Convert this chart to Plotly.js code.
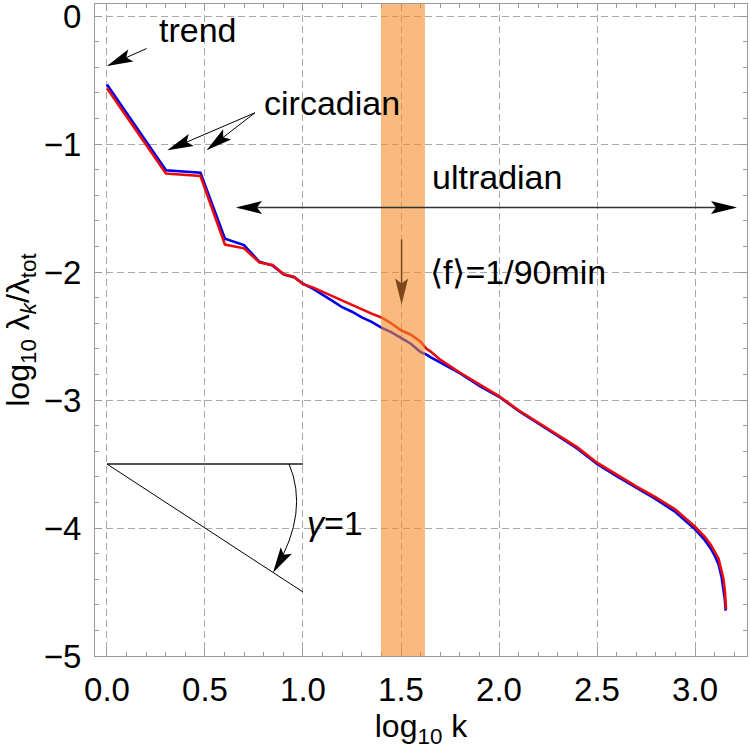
<!DOCTYPE html>
<html>
<head>
<meta charset="utf-8">
<script src="https://cdn.plot.ly/plotly-3.0.1.min.js"></script>
<style>html,body{margin:0;padding:0;background:#fff;}#chart{width:750px;height:754px;}</style>
</head>
<body>
<div id="chart"></div>
<script>
// ---- data ----
const logK = [0, 0.301, 0.477, 0.602, 0.699, 0.778, 0.845, 0.903, 0.954, 1.0,
  1.05, 1.1, 1.15, 1.2, 1.25, 1.3, 1.35, 1.4, 1.45, 1.5,
  1.55, 1.6, 1.63, 1.65, 1.7, 1.8, 1.9, 2.0, 2.1, 2.2,
  2.3, 2.4, 2.5, 2.6, 2.7, 2.8, 2.9, 3.0, 3.05, 3.08,
  3.1, 3.12, 3.135, 3.145, 3.152, 3.156, 3.158];
const blueSeries = [-0.535, -1.205, -1.225, -1.74, -1.79, -1.92, -1.95, -2.02, -2.04, -2.09,
  -2.13, -2.175, -2.225, -2.275, -2.31, -2.355, -2.39, -2.435, -2.47, -2.515,
  -2.56, -2.625, -2.645, -2.665, -2.705, -2.79, -2.89, -2.975, -3.085, -3.18,
  -3.28, -3.38, -3.5, -3.595, -3.685, -3.775, -3.875, -4.01, -4.095, -4.16,
  -4.215, -4.285, -4.38, -4.47, -4.56, -4.64, -4.645];
const redSeries = [-0.565, -1.23, -1.25, -1.785, -1.815, -1.925, -1.945, -2.02, -2.037, -2.095,
  -2.12, -2.155, -2.185, -2.22, -2.26, -2.29, -2.325, -2.355, -2.4, -2.455,
  -2.49, -2.545, -2.6, -2.62, -2.685, -2.785, -2.88, -2.97, -3.08, -3.175,
  -3.275, -3.37, -3.49, -3.585, -3.675, -3.76, -3.855, -3.99, -4.07, -4.13,
  -4.18, -4.24, -4.335, -4.4, -4.49, -4.57, -4.635];
const xTickVals = [0, 0.5, 1, 1.5, 2, 2.5, 3];
const xTickText = ['0.0', '0.5', '1.0', '1.5', '2.0', '2.5', '3.0'];
const yTickVals = [0, -1, -2, -3, -4, -5];
const yTickText = ['0', '\u22121', '\u22122', '\u22123', '\u22124', '\u22125'];
const yHalfGrid = [-0.5, -1.5, -2.5, -3.5, -4.5];
const band = [1.398, 1.622];   // log10 k range of the shaded band (~90 min)

// ---- layout geometry ----
const W = 750, H = 754;
const M = {l: 95, r: 3, t: 4, b: 98};
const xRange = [-0.061, 3.265], yRange = [-5, 0.094];
const sx = (W - M.l - M.r) / (xRange[1] - xRange[0]);
const sy = (H - M.t - M.b) / (yRange[1] - yRange[0]);
const FONT = 'Liberation Sans, Arial, sans-serif';

function head(x, y, tx, ty, color, L, Wd) {
  L = L || 26; Wd = Wd || 13;
  const dx = (x - tx) * sx, dy = (y - ty) * sy;
  const a = Math.atan2(dy, dx), c = Math.cos(a), s = Math.sin(a);
  const pts = [[0, 0], [-L, Wd / 2], [-L + 5, 0], [-L, -Wd / 2]].map(p =>
    [(p[0] * c - p[1] * s).toFixed(2), (p[0] * s + p[1] * c).toFixed(2)]);
  return {type: 'path', xref: 'x', yref: 'y', xsizemode: 'pixel', ysizemode: 'pixel',
    xanchor: x, yanchor: y, layer: 'above',
    path: 'M' + pts.map(p => p.join(',')).join('L') + 'Z',
    fillcolor: color, line: {width: 0}};
}
function seg(x0, y0, x1, y1, color, w) {
  return {type: 'line', xref: 'x', yref: 'y', x0, y0, x1, y1, layer: 'above',
    line: {color, width: w || 1}};
}

const shapes = [
  {type: 'rect', xref: 'x', yref: 'paper', x0: band[0], x1: band[1], y0: 0, y1: 1,
   fillcolor: 'rgb(244,140,40)', opacity: 0.6, line: {width: 0}, layer: 'above'},
  // trend
  seg(0.202, -0.254, 0.01, -0.385, '#000', 1), head(0.0, -0.39, 0.202, -0.254, '#000'),
  // circadian
  seg(0.755, -0.756, 0.32, -1.042, '#000', 1), head(0.308, -1.048, 0.755, -0.756, '#000'),
  seg(0.755, -0.756, 0.515, -1.04, '#000', 1), head(0.508, -1.048, 0.755, -0.756, '#000'),
  // ultradian double arrow
  seg(0.67, -1.496, 3.2, -1.496, '#333', 1.3),
  head(0.658, -1.496, 1.5, -1.496, '#000'), head(3.214, -1.496, 2.0, -1.496, '#000'),
  // <f> arrow (seen through the band)
  seg(1.503, -1.746, 1.503, -2.2, 'rgb(125,72,25)', 1.5),
  head(1.503, -2.254, 1.503, -1.746, 'rgb(125,72,25)'),
  // gamma = 1 construction
  seg(0, -3.5, 1, -3.5, '#555', 2),
  seg(0, -3.5, 1, -4.5, '#000', 1),
  {type: 'path', xref: 'x', yref: 'y', layer: 'above',
   path: 'M 0.929,-3.5 Q 1.032,-3.875 0.86,-4.32', line: {color: '#000', width: 1}},
  head(0.847, -4.35, 1.032, -3.875, '#000')
];

const annFont = {family: FONT, size: 34, color: '#000'};
const annotations = [
  {x: 0.255, y: -0.11, text: 'trend'},
  {x: 0.79, y: -0.68, text: 'circadian'},
  {x: 1.648, y: -1.255, text: 'ultradian'},
  {x: 1.638, y: -2.0, text: '\u27E8f\u27E9=1/90min'},
  {x: 1.01, y: -3.96, text: '<i>\u03B3</i>=1'}
].map(a => Object.assign({xref: 'x', yref: 'y', xanchor: 'left', yanchor: 'middle',
  showarrow: false, font: annFont}, a));

const traces = [
  {x: logK, y: blueSeries, mode: 'lines', name: 'blue', line: {color: 'rgb(0,0,235)', width: 2.6}},
  {x: logK, y: redSeries, mode: 'lines', name: 'red', line: {color: 'rgb(235,10,10)', width: 2.6}}
];

const GRID = {showgrid: true, gridcolor: '#a8a8a8', gridwidth: 1, griddash: '7px,4px'};
const axisCommon = Object.assign({
  showline: true, linecolor: '#9a9a9a', linewidth: 1, mirror: 'ticks',
  ticks: 'inside', ticklen: 7, tickcolor: '#9a9a9a', tickwidth: 1,
  zeroline: false, ticklabeloverflow: 'allow',
  tickfont: {family: FONT, size: 33, color: '#000'}
}, GRID);
const layout = {
  width: W, height: H, margin: M, showlegend: false,
  paper_bgcolor: '#fff', plot_bgcolor: '#fff',
  xaxis: Object.assign({}, axisCommon, {
    range: xRange, tickmode: 'array', tickvals: xTickVals, ticktext: xTickText,
    ticklabelstandoff: 4,
    minor: {tickmode: 'linear', tick0: 0, dtick: 0.1, ticks: 'inside', ticklen: 4, tickcolor: '#9a9a9a', showgrid: false},
    title: {text: 'log<sub>10</sub> k', font: {family: FONT, size: 32, color: '#000'}, standoff: 8}
  }),
  yaxis: Object.assign({}, axisCommon, {
    range: yRange, tickmode: 'array', tickvals: yTickVals, ticktext: yTickText,
    ticklabelstandoff: 6,
    minor: {tickmode: 'linear', tick0: 0, dtick: 0.2, ticks: 'inside', ticklen: 4, tickcolor: '#9a9a9a', showgrid: false},
    title: {text: 'log<sub>10</sub> \u03BB<sub><i>k</i></sub>/\u03BB<sub>tot</sub>', font: {family: FONT, size: 32, color: '#000'}, standoff: 8}
  }),
  yaxis2: Object.assign({}, GRID, {
    overlaying: 'y', anchor: 'x', side: 'left', range: yRange,
    tickmode: 'array', tickvals: yHalfGrid, showticklabels: false, ticks: '',
    showline: false, zeroline: false
  }),
  shapes, annotations
};
Plotly.newPlot('chart', traces, layout, {staticPlot: true, displayModeBar: false});
</script>
</body>
</html>
